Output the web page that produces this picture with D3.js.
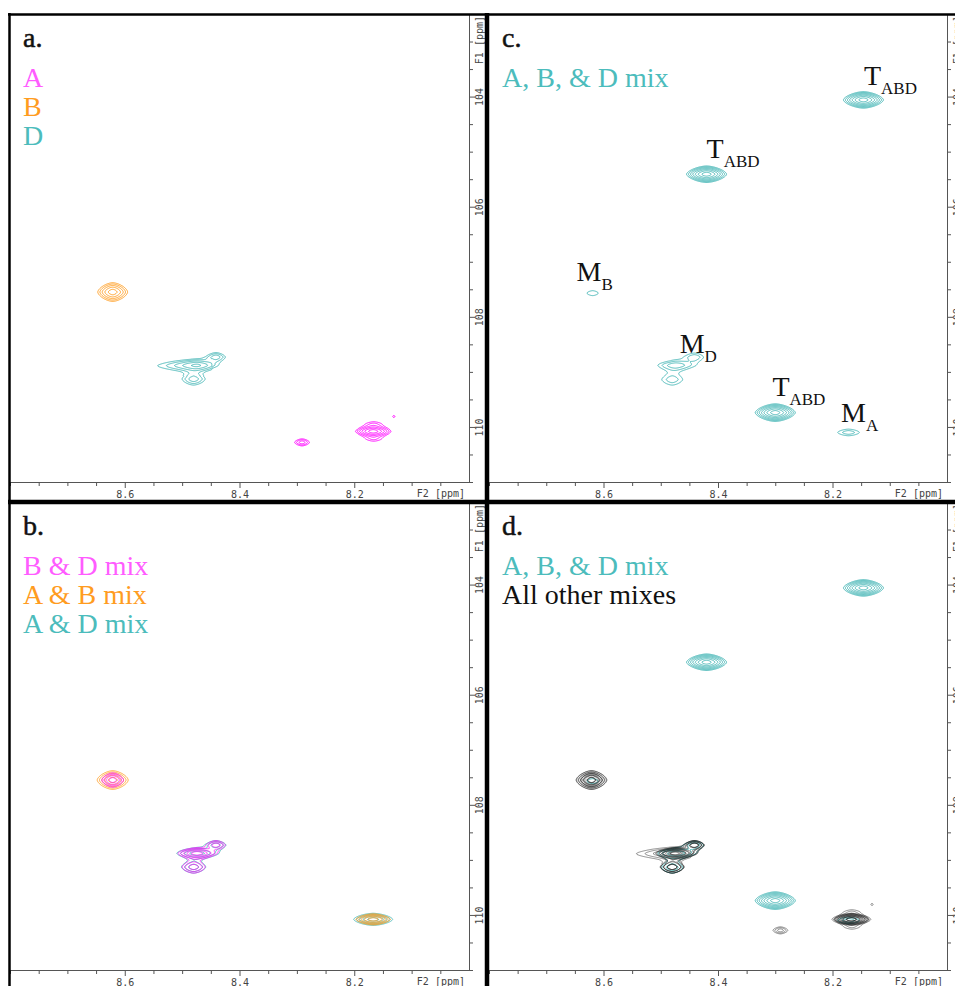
<!DOCTYPE html>
<html>
<head>
<meta charset="utf-8">
<script src="https://cdn.jsdelivr.net/npm/d3@7"></script>
<style>
  body { margin: 0; background: #fff; }
  svg { display: block; }
</style>
</head>
<body>
<div id="chart"></div>
<script>
// peak tables, one row per cross peak:
// [F2 ppm, F1 ppm, outer half width F2 (ppm), outer half width F1 (ppm), contour levels]
const peaksA = [
  [8.167, 110.08, 0.031, 0.105, 6],
  [8.166, 109.945, 0.009, 0.032, 1],
  [8.166, 110.22, 0.009, 0.032, 1],
  [8.291, 110.28, 0.013, 0.064, 3],
  [8.131, 109.81, 0.002, 0.02, 1]
];
const peaksB = [
  [8.621, 107.55, 0.026, 0.17, 5]
];
const peaksD = [
  [8.474, 108.88, 0.034, 0.10, 4],
  [8.441, 108.73, 0.016, 0.08, 3],
  [8.514, 108.89, 0.024, 0.045, 1],
  [8.480, 109.13, 0.020, 0.11, 3]
];
const peaksABD = [
  [8.146, 104.06, 0.035, 0.15, 7],
  [8.420, 105.41, 0.035, 0.15, 7],
  [8.300, 109.74, 0.035, 0.16, 7],
  [8.619, 107.57, 0.010, 0.045, 1],
  [8.474, 108.88, 0.030, 0.09, 3],
  [8.441, 108.73, 0.015, 0.07, 2],
  [8.480, 109.14, 0.018, 0.10, 2],
  [8.172, 110.10, 0.019, 0.06, 2]
];
// two-protein mixes hold the monomer peaks of both partners
const peaksBD = [
  [8.621, 107.55, 0.019, 0.13, 4],
  [8.474, 108.88, 0.033, 0.10, 5],
  [8.441, 108.73, 0.016, 0.08, 3],
  [8.480, 109.13, 0.020, 0.11, 3]
];
const peaksAB = [
  [8.167, 110.08, 0.030, 0.10, 5],
  [8.621, 107.55, 0.027, 0.17, 5]
];
const peaksAD = [
  [8.167, 110.08, 0.034, 0.11, 5],
  [8.474, 108.88, 0.035, 0.10, 4],
  [8.441, 108.73, 0.017, 0.08, 3],
  [8.480, 109.13, 0.021, 0.11, 3]
];

// axis ticks
const f2Labels = [8.6, 8.4, 8.2];
const f1Labels = [104, 106, 108, 110];
const f2Domain = [8.8, 8.0];
const f1Domain = [102.5, 111];

// legends and peak annotations
const legendA = ["A", "B", "D"];
const legendB = ["B & D mix", "A & B mix", "A & D mix"];
const legendC = ["A, B, & D mix"];
const legendD = ["A, B, & D mix", "All other mixes"];
const labelsC = [
  ["T", "ABD", 8.145, 103.79],
  ["T", "ABD", 8.420, 105.12],
  ["M", "B", 8.647, 107.35],
  ["M", "D", 8.467, 108.66],
  ["T", "ABD", 8.305, 109.44],
  ["M", "A", 8.185, 109.91]
];

const magenta = "#ff00ff", orange = "#ff9a1a", teal = "#3fb3b3", black = "#111";
const magentaText = "#ff5cff", orangeText = "#ff9c1f", tealText = "#4cbcbc";

const W = 955, H = 986;
const svg = d3.select("#chart").append("svg").attr("width", W).attr("height", H);

const P = 1.6, R = 1.4;
const thresholds = d3.range(0, 16).map(k => Math.pow(R, k));

function peakField(peaks, x, y, w, h) {
  const vals = new Float64Array(w * h);
  const x0 = x.range()[0], y0 = y.range()[0];
  peaks.forEach(([f2, f1, hw2, hw1, lv]) => {
    const amp = Math.pow(R, lv - 1) * 1.25;
    const k = Math.pow(P * Math.log(amp), 1 / P);
    const cx = x(f2) - x0, cy = y(f1) - y0;
    const sx = Math.abs(x(f2 + hw2) - x(f2)) / k;
    const sy = Math.abs(y(f1 + hw1) - y(f1)) / k;
    const ex = 2.5 * k * sx + 2, ey = 2.5 * k * sy + 2;
    const i0 = Math.max(0, Math.floor(cx - ex)), i1 = Math.min(w - 1, Math.ceil(cx + ex));
    const j0 = Math.max(0, Math.floor(cy - ey)), j1 = Math.min(h - 1, Math.ceil(cy + ey));
    for (let j = j0; j <= j1; j++) {
      const v = Math.pow(Math.abs((j + 0.5 - cy) / sy), P);
      for (let i = i0; i <= i1; i++) {
        const u = Math.pow(Math.abs((i + 0.5 - cx) / sx), P);
        vals[j * w + i] += amp * Math.exp(-(u + v) / P);
      }
    }
  });
  return vals;
}

function drawPanel(p) {
  const x = d3.scaleLinear().domain(f2Domain).range([p.x0, p.x1]);
  const y = d3.scaleLinear().domain(f1Domain).range([p.y0, p.y1]);
  const w = Math.round(p.x1 - p.x0), h = Math.round(p.y1 - p.y0);
  const g = svg.append("g").attr("class", "panel-" + p.id);

  g.append("clipPath").attr("id", "clip-" + p.id)
    .append("rect").attr("x", p.x0).attr("y", p.y0).attr("width", w).attr("height", h);

  // contour layers
  const plot = g.append("g").attr("clip-path", `url(#clip-${p.id})`);
  p.layers.forEach(layer => {
    const vals = peakField(layer.peaks, x, y, w, h);
    const cs = d3.contours().size([w, h]).thresholds(thresholds)(vals);
    plot.append("g")
      .attr("transform", `translate(${p.x0},${p.y0})`)
      .attr("fill", "none")
      .attr("stroke", layer.color)
      .attr("stroke-width", 0.9)
      .attr("stroke-opacity", layer.opacity || 1)
      .selectAll("path")
      .data(cs.filter(c => c.coordinates.length))
      .join("path")
      .attr("d", d3.geoPath());
  });

  // F2 axis (bottom)
  const minorX = d3.range(16).map(i => 8.05 + i * 0.05).filter(v => !f2Labels.some(l => Math.abs(l - v) < 1e-6));
  g.append("g").attr("transform", `translate(0,${p.y1})`)
    .call(d3.axisBottom(x).tickValues(minorX).tickSize(4).tickSizeOuter(0).tickFormat(""));
  g.append("g").attr("transform", `translate(0,${p.y1})`)
    .call(d3.axisBottom(x).tickValues(f2Labels).tickSize(6).tickSizeOuter(0).tickFormat(d3.format(".1f")))
    .call(s => s.select(".domain").remove());
  g.append("text").attr("x", p.x1 - 4).attr("y", p.y1 + 15)
    .attr("text-anchor", "end").attr("class", "axlab").text("F2 [ppm]");

  // F1 axis (right)
  const minorY = d3.range(17).map(i => 103 + i * 0.5).filter(v => !f1Labels.includes(v));
  g.append("g").attr("transform", `translate(${p.x1},0)`)
    .call(d3.axisRight(y).tickValues(minorY).tickSize(4).tickSizeOuter(0).tickFormat(""));
  const axY = g.append("g").attr("transform", `translate(${p.x1},0)`)
    .call(d3.axisRight(y).tickValues(f1Labels).tickSize(6).tickSizeOuter(0).tickFormat(d3.format("d")));
  axY.select(".domain").remove();
  axY.selectAll(".tick text")
    .attr("x", null).attr("dy", null)
    .attr("transform", "translate(14,0) rotate(-90)")
    .attr("text-anchor", "middle");
  g.append("text").attr("class", "axlab")
    .attr("transform", `translate(${p.x1 + 14},${p.y0 + 2}) rotate(-90)`)
    .attr("text-anchor", "end").text("F1 [ppm]");

  g.selectAll(".domain, .tick line").attr("stroke", "#555");
  g.selectAll(".tick text, .axlab")
    .attr("font-family", "DejaVu Sans Mono, monospace").attr("font-size", 10).attr("fill", "#444");

  // panel letter and legend
  g.append("text").attr("x", p.x0 + 13).attr("y", p.y0 + 33)
    .attr("font-family", "Liberation Serif, Times New Roman, serif").attr("font-size", 28)
    .attr("fill", "#111").attr("stroke", "#111").attr("stroke-width", 0.5)
    .text(p.id + ".");
  g.selectAll(".legend").data(p.legend).join("text")
    .attr("class", "legend")
    .attr("x", p.x0 + 13)
    .attr("y", (d, i) => p.y0 + 73 + i * 29)
    .attr("font-family", "Liberation Serif, Times New Roman, serif").attr("font-size", 28)
    .attr("fill", (d, i) => p.legendColors[i])
    .text(d => d);

  // peak annotations
  if (p.labels) {
    const t = g.selectAll(".plabel").data(p.labels).join("text")
      .attr("class", "plabel")
      .attr("x", d => x(d[2])).attr("y", d => y(d[3]))
      .attr("font-family", "Liberation Serif, Times New Roman, serif").attr("fill", "#111");
    t.append("tspan").attr("font-size", 28).text(d => d[0]);
    t.append("tspan").attr("font-size", 17).attr("dy", 9).text(d => d[1]);
  }
}

const panels = [
  { id: "a", x0: 10, x1: 469, y0: 14, y1: 482,
    layers: [
      { peaks: peaksA, color: magenta },
      { peaks: peaksB, color: orange },
      { peaks: peaksD, color: teal }
    ],
    legend: legendA, legendColors: [magentaText, orangeText, tealText] },
  { id: "b", x0: 10, x1: 469, y0: 502, y1: 970,
    layers: [
      { peaks: peaksAD, color: teal, opacity: 0.9 },
      { peaks: peaksAB, color: orange, opacity: 0.9 },
      { peaks: peaksBD, color: magenta, opacity: 0.8 }
    ],
    legend: legendB, legendColors: [magentaText, orangeText, tealText] },
  { id: "c", x0: 489, x1: 947, y0: 14, y1: 482,
    layers: [{ peaks: peaksABD, color: teal }],
    legend: legendC, legendColors: [tealText], labels: labelsC },
  { id: "d", x0: 489, x1: 947, y0: 502, y1: 970,
    layers: [
      { peaks: peaksABD, color: teal },
      { peaks: peaksA, color: black, opacity: 0.5 },
      { peaks: peaksB, color: black, opacity: 0.5 },
      { peaks: peaksD, color: black, opacity: 0.5 },
      { peaks: peaksBD, color: black, opacity: 0.5 },
      { peaks: peaksAB, color: black, opacity: 0.5 },
      { peaks: peaksAD, color: black, opacity: 0.5 }
    ],
    legend: legendD, legendColors: [tealText, "#111"] }
];
panels.forEach(drawPanel);

// table frame around the four panels
const frame = svg.append("g").attr("stroke", "#000");
frame.append("line").attr("x1", 8).attr("x2", W).attr("y1", 14.5).attr("y2", 14.5).attr("stroke-width", 2.5);
frame.append("line").attr("x1", 9.5).attr("x2", 9.5).attr("y1", 13).attr("y2", H).attr("stroke-width", 2.5);
frame.append("line").attr("x1", 487).attr("x2", 487).attr("y1", 13).attr("y2", H).attr("stroke-width", 4.5);
frame.append("line").attr("x1", 8).attr("x2", W).attr("y1", 502).attr("y2", 502).attr("stroke-width", 4.5);
</script>
</body>
</html>
